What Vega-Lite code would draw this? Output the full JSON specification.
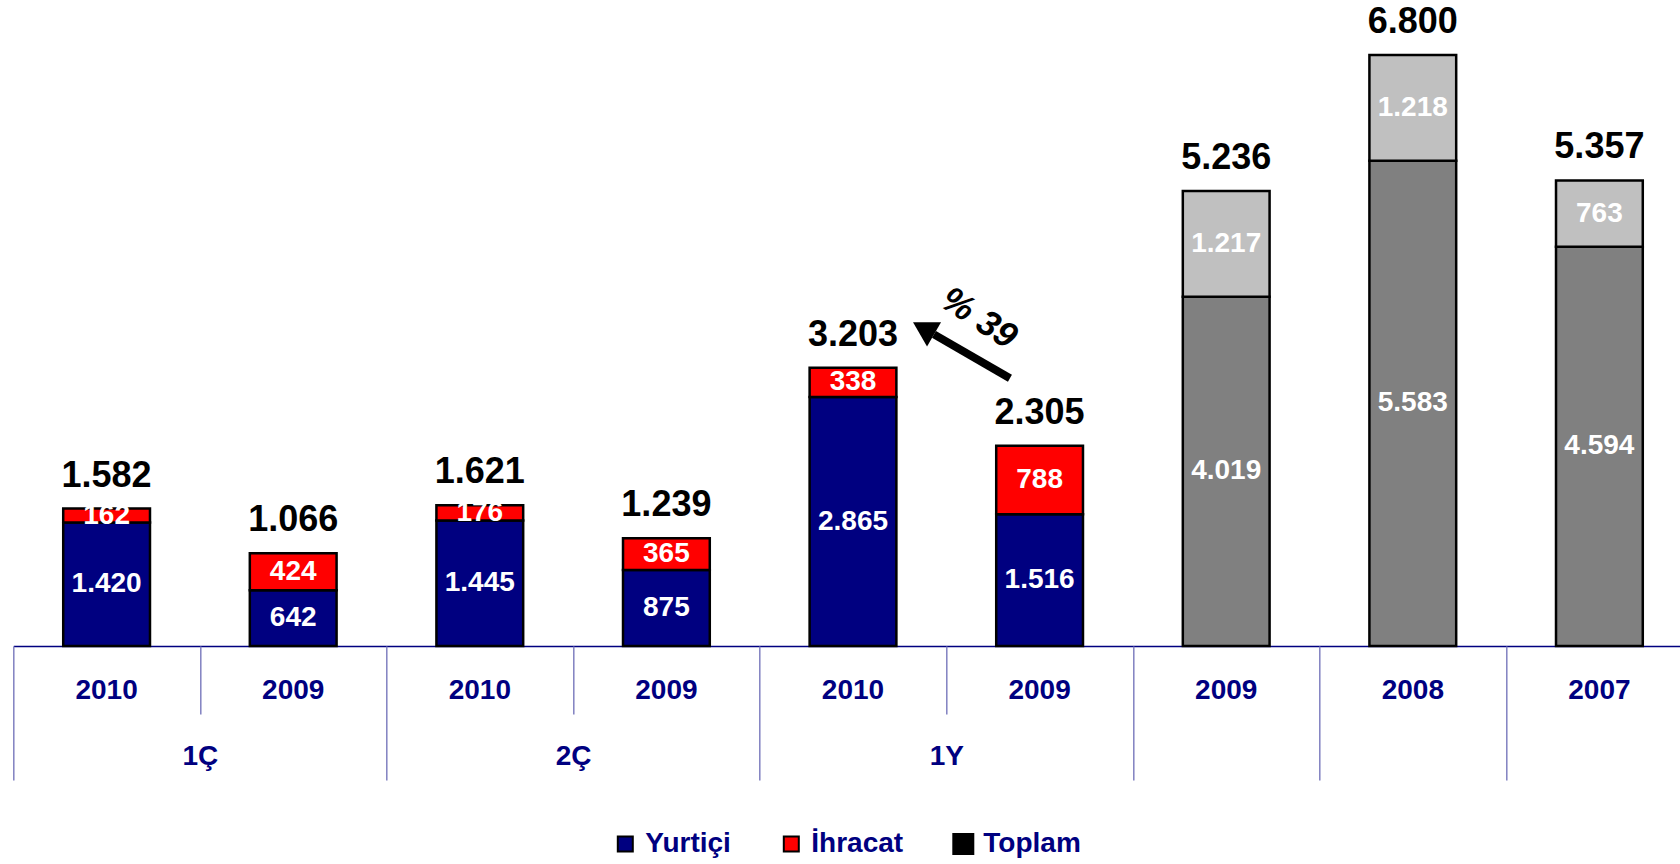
{
  "$schema": "https://vega.github.io/schema/vega-lite/v6.json",
  "width": 1666.7,
  "height": 646,
  "autosize": {"type": "none"},
  "padding": {"left": 13.3, "top": 0, "right": 0, "bottom": 218},
  "background": "white",
  "config": {
    "view": {"stroke": null},
    "font": "Liberation Sans",
    "locale": {"number": {"decimal": ",", "thousands": ".", "grouping": [3], "currency": ["", ""]}}
  },
  "datasets": {
    "parts": [
      {"cat": "1Ç-2010", "grup": "1Ç", "seri": "Yurtiçi", "deger": 1420},
      {"cat": "1Ç-2010", "grup": "1Ç", "seri": "İhracat", "deger": 162},
      {"cat": "1Ç-2009", "grup": "1Ç", "seri": "Yurtiçi", "deger": 642},
      {"cat": "1Ç-2009", "grup": "1Ç", "seri": "İhracat", "deger": 424},
      {"cat": "2Ç-2010", "grup": "2Ç", "seri": "Yurtiçi", "deger": 1445},
      {"cat": "2Ç-2010", "grup": "2Ç", "seri": "İhracat", "deger": 176},
      {"cat": "2Ç-2009", "grup": "2Ç", "seri": "Yurtiçi", "deger": 875},
      {"cat": "2Ç-2009", "grup": "2Ç", "seri": "İhracat", "deger": 365},
      {"cat": "1Y-2010", "grup": "1Y", "seri": "Yurtiçi", "deger": 2865},
      {"cat": "1Y-2010", "grup": "1Y", "seri": "İhracat", "deger": 338},
      {"cat": "1Y-2009", "grup": "1Y", "seri": "Yurtiçi", "deger": 1516},
      {"cat": "1Y-2009", "grup": "1Y", "seri": "İhracat", "deger": 788},
      {"cat": "Y-2009", "grup": "Y", "seri": "Yurtiçi", "deger": 4019},
      {"cat": "Y-2009", "grup": "Y", "seri": "İhracat", "deger": 1217},
      {"cat": "Y-2008", "grup": "Y", "seri": "Yurtiçi", "deger": 5583},
      {"cat": "Y-2008", "grup": "Y", "seri": "İhracat", "deger": 1218},
      {"cat": "Y-2007", "grup": "Y", "seri": "Yurtiçi", "deger": 4594},
      {"cat": "Y-2007", "grup": "Y", "seri": "İhracat", "deger": 763}
    ],
    "totals": [
      {"cat": "1Ç-2010", "toplam": 1582},
      {"cat": "1Ç-2009", "toplam": 1066},
      {"cat": "2Ç-2010", "toplam": 1621},
      {"cat": "2Ç-2009", "toplam": 1239},
      {"cat": "1Y-2010", "toplam": 3203},
      {"cat": "1Y-2009", "toplam": 2305},
      {"cat": "Y-2009", "toplam": 5236},
      {"cat": "Y-2008", "toplam": 6800},
      {"cat": "Y-2007", "toplam": 5357}
    ],
    "arrow": [{"x": 5.341, "y": 3081, "x2": 4.934, "y2": 3586}],
    "head": [{"x": 4.878, "y": 3656}],
    "note": [{"x": 5.175, "y": 3770, "t": "% 39"}]
  },
  "resolve": {"scale": {"x": "independent"}},
  "layer": [
    {
      "data": {"name": "parts"},
      "transform": [
        {"stack": "deger", "groupby": ["cat"], "sort": [{"field": "seri", "order": "ascending"}], "as": ["y0", "y1"]}
      ],
      "mark": {"type": "bar", "stroke": "black", "strokeWidth": 2.5, "width": {"band": 0.465}},
      "encoding": {
        "x": {
          "field": "cat", "type": "nominal",
          "scale": {"domain": ["1Ç-2010","1Ç-2009","2Ç-2010","2Ç-2009","1Y-2010","1Y-2009","Y-2009","Y-2008","Y-2007"], "range": [0, 1679.4], "paddingInner": 0, "paddingOuter": 0},
          "axis": {
            "orient": "bottom", "title": null, "ticks": false, "tickSize": 0, "domainColor": "#000080", "domainWidth": 1.5,
            "labelAngle": 0, "labelExpr": "split(datum.value, '-')[1]", "labelFont": "Liberation Sans", "labelFontWeight": "bold",
            "labelFontSize": 28, "labelColor": "#000080", "labelPadding": 30, "labelOverlap": false, "labelBound": false, "labelFlush": false
          }
        },
        "y": {"field": "y0", "type": "quantitative", "scale": {"domain": [0, 7434], "nice": false, "zero": false}, "axis": null},
        "y2": {"field": "y1"},
        "color": {
          "condition": [
            {"test": "datum.grup === 'Y' && datum.seri === 'Yurtiçi'", "value": "#808080"},
            {"test": "datum.grup === 'Y' && datum.seri === 'İhracat'", "value": "#c0c0c0"}
          ],
          "field": "seri", "type": "nominal",
          "scale": {"domain": ["Yurtiçi", "İhracat", "Toplam"], "range": ["#000080", "#ff0000", "#000000"]},
          "legend": {
            "title": null, "orient": "none", "direction": "horizontal", "legendX": 598, "legendY": 830,
            "symbolType": "square", "symbolSize": 225, "symbolStrokeColor": "black", "symbolStrokeWidth": 2,
            "labelFont": "Liberation Sans", "labelFontWeight": "bold", "labelFontSize": 28, "labelColor": "#000080",
            "labelOffset": 6, "columnPadding": 46, "labelLimit": 300,
            "encode": {"symbols": {"update": {"size": {"signal": "datum.value === 'Toplam' ? 484 : 225"}, "strokeWidth": {"signal": "datum.value === 'Toplam' ? 0 : 2"}}}}
          }
        }
      }
    },
    {
      "data": {"name": "parts"},
      "transform": [
        {"stack": "deger", "groupby": ["cat"], "sort": [{"field": "seri", "order": "ascending"}], "as": ["y0", "y1"]},
        {"calculate": "(datum.y0 + datum.y1) / 2", "as": "mid"}
      ],
      "mark": {"type": "text", "color": "white", "font": "Liberation Sans", "fontWeight": "bold", "fontSize": 28, "baseline": "middle", "align": "center"},
      "encoding": {
        "x": {
          "field": "cat", "type": "nominal",
          "scale": {"domain": ["1Ç-2010","1Ç-2009","2Ç-2010","2Ç-2009","1Y-2010","1Y-2009","Y-2009","Y-2008","Y-2007"], "range": [0, 1679.4], "paddingInner": 0, "paddingOuter": 0},
          "axis": {
            "orient": "bottom", "title": null, "tickBand": "extent", "domain": false, "ticks": true, "tickColor": "#8080c0", "tickWidth": 1.5,
            "tickSize": {"condition": {"test": "indexof(['1Ç-2010','2Ç-2010','1Y-2010'], datum.value) >= 0", "value": 68}, "value": 134},
            "labelAngle": 0, "labelOffset": -93.3,
            "labelPadding": {"condition": {"test": "indexof(['1Ç-2009','2Ç-2009','1Y-2009'], datum.value) >= 0", "value": -38}, "value": 28},
            "labelExpr": "datum.value === '1Ç-2009' ? '1Ç' : datum.value === '2Ç-2009' ? '2Ç' : datum.value === '1Y-2009' ? '1Y' : ''",
            "labelFont": "Liberation Sans", "labelFontWeight": "bold", "labelFontSize": 28, "labelColor": "#000080",
            "labelOverlap": false, "labelBound": false, "labelFlush": false
          }
        },
        "y": {"field": "mid", "type": "quantitative", "scale": {"domain": [0, 7434], "nice": false, "zero": false}, "axis": null},
        "text": {"field": "deger", "type": "quantitative", "format": ",d"}
      }
    },
    {
      "data": {"name": "totals"},
      "mark": {"type": "text", "color": "black", "font": "Liberation Sans", "fontWeight": "bold", "fontSize": 36, "baseline": "alphabetic", "align": "center", "dy": -22},
      "encoding": {
        "x": {
          "field": "cat", "type": "nominal",
          "scale": {"domain": ["1Ç-2010","1Ç-2009","2Ç-2010","2Ç-2009","1Y-2010","1Y-2009","Y-2009","Y-2008","Y-2007"], "range": [0, 1679.4], "paddingInner": 0, "paddingOuter": 0},
          "axis": null
        },
        "y": {"field": "toplam", "type": "quantitative", "scale": {"domain": [0, 7434], "nice": false, "zero": false}, "axis": null},
        "text": {"field": "toplam", "type": "quantitative", "format": ",d"}
      }
    },
    {
      "data": {"name": "arrow"},
      "mark": {"type": "rule", "color": "black", "strokeWidth": 8},
      "encoding": {
        "x": {"field": "x", "type": "quantitative", "scale": {"domain": [0, 9], "range": [0, 1679.4], "nice": false, "zero": false}, "axis": null},
        "x2": {"field": "x2"},
        "y": {"field": "y", "type": "quantitative", "scale": {"domain": [0, 7434], "nice": false, "zero": false}, "axis": null},
        "y2": {"field": "y2"}
      }
    },
    {
      "data": {"name": "head"},
      "mark": {"type": "point", "shape": "triangle-up", "size": 784, "angle": 300, "filled": true, "color": "black", "opacity": 1},
      "encoding": {
        "x": {"field": "x", "type": "quantitative", "scale": {"domain": [0, 9], "range": [0, 1679.4], "nice": false, "zero": false}, "axis": null},
        "y": {"field": "y", "type": "quantitative", "scale": {"domain": [0, 7434], "nice": false, "zero": false}, "axis": null}
      }
    },
    {
      "data": {"name": "note"},
      "mark": {"type": "text", "color": "black", "font": "Liberation Sans", "fontWeight": "bold", "fontStyle": "italic", "fontSize": 36, "angle": 33, "align": "center", "baseline": "middle"},
      "encoding": {
        "x": {"field": "x", "type": "quantitative", "scale": {"domain": [0, 9], "range": [0, 1679.4], "nice": false, "zero": false}, "axis": null},
        "y": {"field": "y", "type": "quantitative", "scale": {"domain": [0, 7434], "nice": false, "zero": false}, "axis": null},
        "text": {"field": "t", "type": "nominal"}
      }
    }
  ]
}
